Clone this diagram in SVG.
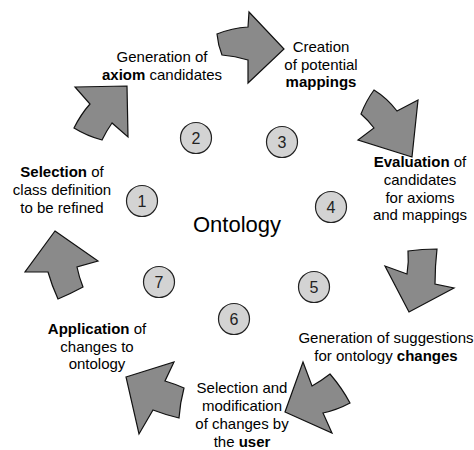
<svg xmlns="http://www.w3.org/2000/svg" width="474" height="450" viewBox="0 0 474 450">
<style>
.arrow{fill:#8a8a8a;stroke:#111;stroke-width:1.2;stroke-linejoin:miter}
.step circle{fill:#d3d3d3;stroke:#222;stroke-width:1.2}
.num{font-family:"Liberation Sans",Arial,sans-serif;font-size:16px;fill:#222;text-anchor:middle}
.lbl{font-family:"Liberation Sans",Arial,sans-serif;font-size:15px;fill:#000;text-anchor:middle}
.b{font-weight:bold}
.center{font-family:"Liberation Sans",Arial,sans-serif;font-size:22px;fill:#000;text-anchor:middle}
</style>
<rect width="474" height="450" fill="#fff"/>
<g id="connectors">
<path class="arrow" d="M75,87 L127,86 L128,137 L112,123 Q107,130 102,140 Q87,136 74,128 Q81,114 90,104 Z"/>
<path class="arrow" d="M217,34 Q232,28 248,27 L249,12 L284,49 L248,83 L248,60 Q235,56 222,55 Q218,45 217,34 Z"/>
<path class="arrow" d="M374,90 Q387,98 397,111 L418,100 L412,157 L358,140 L374,128 Q368,120 361,114 Q366,101 374,90 Z"/>
<path class="arrow" d="M408,251 Q422,249 437,249 Q435,266 435,284 L454,288 L409,312 L385,266 L407,274 Q409,262 408,251 Z"/>
<path class="arrow" d="M303,362 L312,386 Q321,381 330,374 Q342,388 350,403 Q337,410 323,413 L332,433 L285,412 Z"/>
<path class="arrow" d="M126,377 L174,362 L165,381 Q175,384 184,388 Q180,403 179,418 Q166,415 153,410 L139,434 Z"/>
<path class="arrow" d="M55,231 L98,261 L77,267 Q79,277 83,287 Q70,294 58,299 Q52,286 48,272 L25,272 Z"/>
</g>
<g id="ontology"><text class="center" x="237" y="232">Ontology</text></g>
<g id="step1" class="step"><circle cx="142" cy="201" r="15.5"/><text class="num" x="142" y="207">1</text>
<text class="lbl" x="62" y="177"><tspan class="b">Selection</tspan> of</text><text class="lbl" x="62" y="195">class definition</text><text class="lbl" x="62" y="213">to be refined</text></g>
<g id="step2" class="step"><circle cx="196" cy="138" r="15.5"/><text class="num" x="196" y="144">2</text>
<text class="lbl" x="162" y="62">Generation of</text><text class="lbl" x="162" y="79.5"><tspan class="b">axiom</tspan> candidates</text></g>
<g id="step3" class="step"><circle cx="282" cy="142" r="15.5"/><text class="num" x="282" y="148">3</text>
<text class="lbl" x="321" y="52">Creation</text><text class="lbl" x="321" y="69.5">of potential</text><text class="lbl b" x="321" y="87">mappings</text></g>
<g id="step4" class="step"><circle cx="331" cy="207" r="15.5"/><text class="num" x="331" y="213">4</text>
<text class="lbl" x="420" y="167"><tspan class="b">Evaluation</tspan> of</text><text class="lbl" x="420" y="185">candidates</text><text class="lbl" x="420" y="202.5">for axioms</text><text class="lbl" x="420" y="220">and mappings</text></g>
<g id="step5" class="step"><circle cx="314" cy="287" r="15.5"/><text class="num" x="314" y="293">5</text>
<text class="lbl" x="386" y="343">Generation of suggestions</text><text class="lbl" x="386" y="360.5">for ontology <tspan class="b">changes</tspan></text></g>
<g id="step6" class="step"><circle cx="234" cy="319" r="15.5"/><text class="num" x="234" y="325">6</text>
<text class="lbl" x="242" y="393">Selection and</text><text class="lbl" x="242" y="411">modification</text><text class="lbl" x="242" y="429">of changes by</text><text class="lbl" x="242" y="447">the <tspan class="b">user</tspan></text></g>
<g id="step7" class="step"><circle cx="159" cy="282" r="15.5"/><text class="num" x="159" y="288">7</text>
<text class="lbl" x="97" y="334"><tspan class="b">Application</tspan> of</text><text class="lbl" x="97" y="351.5">changes to</text><text class="lbl" x="97" y="369">ontology</text></g>
</svg>
